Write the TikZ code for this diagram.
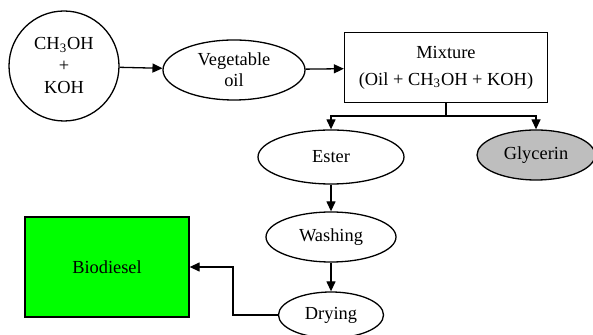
\documentclass[tikz,border=0pt]{standalone}
\usepackage{fontspec}
\setmainfont{Liberation Serif}
\usetikzlibrary{shapes.geometric,arrows.meta}
\definecolor{biogreen}{RGB}{0,255,0}
\definecolor{glygray}{RGB}{190,190,190}
\tikzset{
	stage/.style={ellipse,draw,inner sep=0pt,align=center},
	flow/.style={-{Triangle[length=5pt,width=4.5pt]}},
}
\begin{document}
\begin{tikzpicture}[x=0.5pt,y=-0.5pt,line width=0.65pt,font=\fontsize{9.2}{10.5}\selectfont]
	\useasboundingbox (0,0) rectangle (593,335);

	\node[circle,draw,minimum size=55pt,inner sep=0pt,align=center] (reac) at (64,66) {CH\textsubscript{3}OH\\[0.5pt]+\\[0.5pt]KOH};
	\node[stage,minimum width=71pt,minimum height=30pt] (oil) at (234,70) {Vegetable\\oil};
	\node[draw,minimum width=101.5pt,minimum height=35pt,align=center] (mix) at (446,67.5) {Mixture\\[3pt](Oil + CH\textsubscript{3}OH + KOH)};
	\node[stage,minimum width=73pt,minimum height=27pt] (ester) at (331,157) {Ester};
	\node[stage,fill=glygray,minimum width=59pt,minimum height=25pt] (glyc) at (536,155) {Glycerin};
	\node[stage,minimum width=65pt,minimum height=25pt] (wash) at (331,237) {Washing};
	\node[stage,minimum width=52.5pt,minimum height=23pt] (dry) at (331,315) {Drying};
	\node[draw,fill=biogreen,minimum width=82pt,minimum height=50pt] (bio) at (107,267) {Biodiesel};

	\draw[flow] (reac) -- (oil);
	\draw[flow] (oil) -- (mix);
	\draw (mix.south) -- ++(0,13) coordinate (split);
	\draw[flow] (split) -| (ester.north);
	\draw[flow] (split) -| (glyc.north);
	\draw[flow] (ester) -- (wash);
	\draw[flow] (wash) -- (dry);
	\draw[flow] (dry.west) -- ++(-45,0) |- (bio.east);

\end{tikzpicture}
\end{document}
